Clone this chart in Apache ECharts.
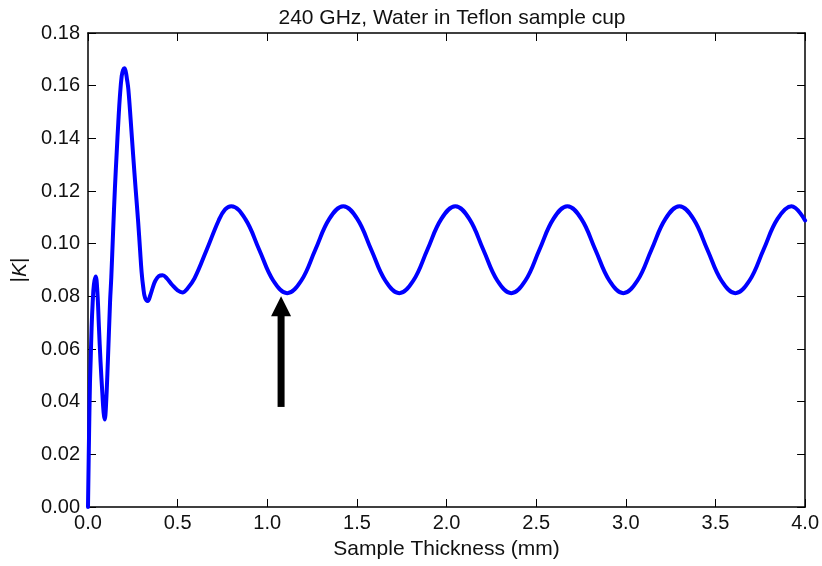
<!DOCTYPE html>
<html><head><meta charset="utf-8">
<script src="https://cdn.jsdelivr.net/npm/echarts@6/dist/echarts.min.js"></script>
<style>html,body{margin:0;padding:0;background:#fff}#c{width:822px;height:566px}</style>
</head><body><div id="c"></div>
<script>
// Sample thickness (mm)
const thickness = [
  0.000, 0.006, 0.011, 0.015, 0.020, 0.026, 0.033, 0.043, 0.052, 0.061,
  0.070, 0.080, 0.087, 0.093, 0.100, 0.111, 0.123, 0.130, 0.140, 0.150,
  0.160, 0.169, 0.178, 0.188, 0.196, 0.203, 0.210, 0.218, 0.225, 0.238,
  0.252, 0.266, 0.280, 0.290, 0.299, 0.308, 0.318, 0.333, 0.348, 0.362,
  0.375, 0.395, 0.416, 0.440, 0.470, 0.500, 0.527, 0.555, 0.594, 0.661,
  0.730, 0.765,
  0.799, 0.877, 0.955, 1.033, 1.111, 1.190, 1.268, 1.346,
  1.424, 1.502, 1.580, 1.658, 1.736, 1.815, 1.893, 1.971,
  2.049, 2.127, 2.205, 2.283, 2.361, 2.440, 2.518, 2.596,
  2.674, 2.752, 2.830, 2.908, 2.986, 3.065, 3.143, 3.221,
  3.299, 3.377, 3.455, 3.533, 3.611, 3.690, 3.768, 3.846,
  3.924, 4.000
];
// |K|
const kValues = [
  0.0000, 0.0280, 0.0470, 0.0560, 0.0680, 0.0775, 0.0845, 0.0875, 0.0820, 0.0683,
  0.0550, 0.0432, 0.0360, 0.0332, 0.0380, 0.0557, 0.0778, 0.0873, 0.1045, 0.1208,
  0.1345, 0.1460, 0.1560, 0.1637, 0.1660, 0.1666, 0.1655, 0.1622, 0.1587, 0.1470,
  0.1334, 0.1205, 0.1081, 0.0980, 0.0892, 0.0835, 0.0795, 0.0782, 0.0805, 0.0835,
  0.0858, 0.0877, 0.0880, 0.0868, 0.0843, 0.0823, 0.0815, 0.0830, 0.0868, 0.0975,
  0.1090, 0.1130,
  0.1142, 0.1094, 0.0977, 0.0860, 0.0812, 0.0860, 0.0977, 0.1094,
  0.1142, 0.1094, 0.0977, 0.0860, 0.0812, 0.0860, 0.0977, 0.1094,
  0.1142, 0.1094, 0.0977, 0.0860, 0.0812, 0.0860, 0.0977, 0.1094,
  0.1142, 0.1094, 0.0977, 0.0860, 0.0812, 0.0860, 0.0977, 0.1094,
  0.1142, 0.1094, 0.0977, 0.0860, 0.0812, 0.0860, 0.0977, 0.1094,
  0.1142, 0.1088
];
// Arrow annotation: x position, tail value, tip value
const arrowX = [1.077];
const arrowTail = [0.038];
const arrowTip = [0.0800];

const titleText = '240 GHz, Water in Teflon sample cup';
const xName = 'Sample Thickness (mm)';

const FONT = "'Liberation Sans', Arial, sans-serif";
const TXT = '#111';
const curve = thickness.map((x, i) => [x, kValues[i]]);
const arrowData = arrowX.map((x, i) => [x, arrowTail[i], arrowTip[i]]);

const axisLine = {show: true, onZero: false, lineStyle: {color: '#000', width: 1.5}};
const axisTick = {show: true, inside: true, length: 8, lineStyle: {color: '#000', width: 1}};

const chart = echarts.init(document.getElementById('c'), null, {renderer: 'canvas'});
chart.setOption({
  animation: false,
  backgroundColor: '#fff',
  title: {
    text: titleText, left: 447, top: 3, textAlign: 'center',
    textStyle: {fontFamily: FONT, fontSize: 21, fontWeight: 'normal', color: TXT}
  },
  grid: {left: 88, right: 16, top: 33, bottom: 59, containLabel: false},
  xAxis: [
    {type: 'value', min: 0, max: 4, interval: 0.5, position: 'bottom',
     name: xName, nameLocation: 'middle', nameGap: 32,
     nameTextStyle: {fontFamily: FONT, fontSize: 21, color: TXT},
     axisLine, axisTick, splitLine: {show: false},
     axisLabel: {show: true, margin: 6, fontFamily: FONT, fontSize: 20, color: TXT,
       showMinLabel: true, showMaxLabel: true, formatter: v => v.toFixed(1)}},
    {type: 'value', min: 0, max: 4, interval: 0.5, position: 'top',
     axisLine, axisTick, splitLine: {show: false}, axisLabel: {show: false}}
  ],
  yAxis: [
    {type: 'value', min: 0, max: 0.18, interval: 0.02, position: 'left',
     name: '|{i|K}|', nameLocation: 'middle', nameGap: 53, nameRotate: 90,
     nameTextStyle: {fontFamily: FONT, fontSize: 21, color: TXT,
       rich: {i: {fontFamily: FONT, fontSize: 21, fontStyle: 'italic', color: TXT}}},
     axisLine, axisTick, splitLine: {show: false},
     axisLabel: {show: true, margin: 8, fontFamily: FONT, fontSize: 20, color: TXT,
       showMinLabel: true, showMaxLabel: true, formatter: v => v.toFixed(2)}},
    {type: 'value', min: 0, max: 0.18, interval: 0.02, position: 'right',
     axisLine, axisTick, splitLine: {show: false}, axisLabel: {show: false}}
  ],
  series: [
    {type: 'line', xAxisIndex: 0, yAxisIndex: 0, data: curve, smooth: 0.4,
     showSymbol: false, symbol: 'none', clip: true,
     lineStyle: {color: '#0000ff', width: 4, cap: 'round', join: 'round'}, z: 3},
    {type: 'custom', coordinateSystem: 'cartesian2d', xAxisIndex: 0, yAxisIndex: 0,
     data: arrowData, encode: {x: 0, y: [1, 2]}, z: 4,
     renderItem: function (params, api) {
       const tail = api.coord([api.value(0), api.value(1)]);
       const tip = api.coord([api.value(0), api.value(2)]);
       const headH = 20, headW = 20, shaftW = 7;
       const baseY = tip[1] + headH;
       return {type: 'group', children: [
         {type: 'rect', shape: {x: tail[0] - shaftW / 2, y: baseY - 1, width: shaftW, height: tail[1] - baseY + 1},
          style: {fill: '#000'}},
         {type: 'polygon', shape: {points: [[tip[0], tip[1]], [tip[0] - headW / 2, baseY], [tip[0] + headW / 2, baseY]]},
          style: {fill: '#000'}}
       ]};
     }}
  ]
});
</script>
</body></html>
